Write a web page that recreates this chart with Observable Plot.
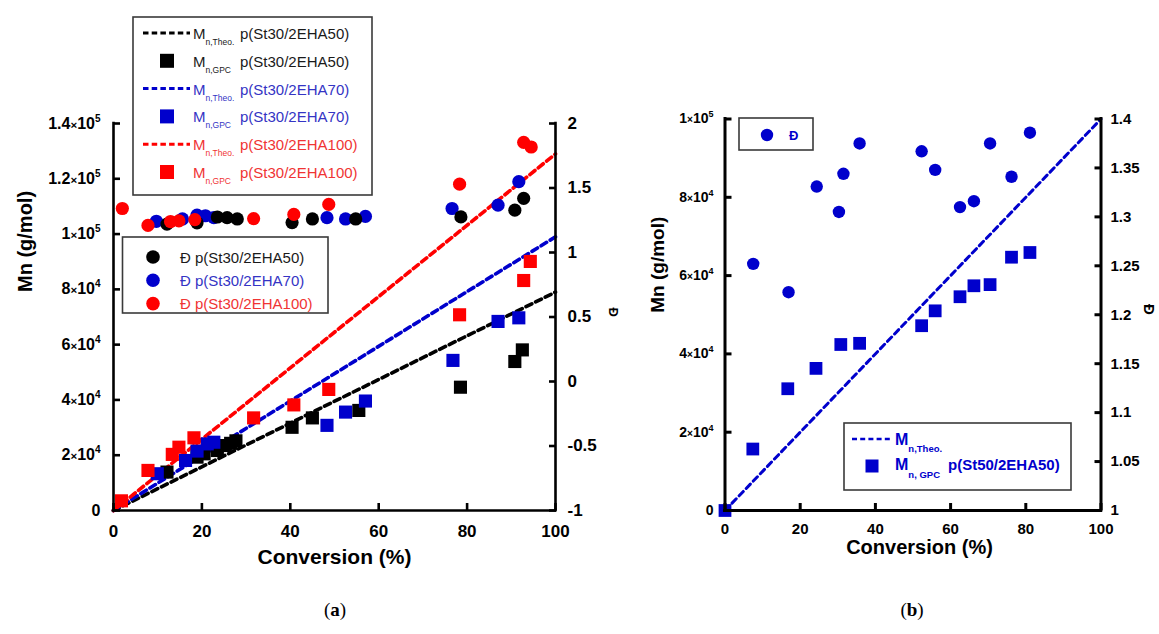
<!DOCTYPE html>
<html><head><meta charset="utf-8">
<script src="https://cdn.jsdelivr.net/npm/d3@7"></script>
<script src="https://cdn.jsdelivr.net/npm/@observablehq/plot@0.6"></script>
<style>
body{margin:0;background:#fff;}
#wrap{position:relative;width:1159px;height:634px;background:#fff;overflow:hidden;}
#wrap svg{position:absolute;top:0;}
</style></head><body><div id="wrap"></div>
<script>
// ---------------- Panel (a) data ----------------
const xTicksA = [0, 20, 40, 60, 80, 100];
const mnTicksA = [0, 20000, 40000, 60000, 80000, 100000, 120000, 140000];
const mnTickLabelsA = ["0", "2×10^4", "4×10^4", "6×10^4", "8×10^4", "1×10^5", "1.2×10^5", "1.4×10^5"];
const dTicksA = [-1, -0.5, 0, 0.5, 1, 1.5, 2];
const dTickLabelsA = ["-1", "-0.5", "0", "0.5", "1", "1.5", "2"];

const convTheoA = [0, 100];
const mnTheoA50 = [0, 79000];
const mnTheoA70 = [0, 99000];
const mnTheoA100 = [0, 129000];

const convGpcA50 = [12.1, 18.9, 20.5, 23.5, 25.3, 26.5, 27.7, 40.4, 45.0, 55.5, 78.5, 90.8, 92.5];
const mnGpcA50 = [13900, 19300, 20500, 21700, 23500, 24300, 25200, 30100, 33500, 36200, 44600, 53900, 58100];
const convGpcA70 = [9.9, 16.3, 18.9, 21.2, 22.7, 48.3, 52.5, 57.0, 76.8, 87.0, 91.7];
const mnGpcA70 = [13300, 18100, 21500, 24100, 24700, 30800, 35600, 39600, 54300, 68400, 69700];
const convGpcA100 = [1.8, 7.8, 13.3, 14.8, 18.2, 31.7, 40.8, 48.7, 78.3, 92.8, 94.3];
const mnGpcA100 = [3500, 14500, 20300, 22900, 26300, 33500, 38200, 43800, 70800, 83200, 90100];

const convDispA50 = [12.1, 18.9, 23.5, 25.7, 28.0, 40.4, 45.0, 54.8, 78.6, 90.8, 92.8];
const dispA50 = [1.22, 1.23, 1.275, 1.27, 1.26, 1.232, 1.26, 1.26, 1.276, 1.328, 1.42];
const convDispA70 = [9.7, 15.6, 18.9, 20.8, 22.7, 48.3, 52.5, 57.0, 76.6, 87.0, 91.7];
const dispA70 = [1.242, 1.26, 1.29, 1.285, 1.27, 1.27, 1.26, 1.28, 1.341, 1.367, 1.549];
const convDispA100 = [2.0, 7.8, 12.9, 14.8, 18.4, 31.7, 40.8, 48.7, 78.3, 92.8, 94.5];
const dispA100 = [1.341, 1.21, 1.24, 1.245, 1.255, 1.263, 1.295, 1.373, 1.53, 1.854, 1.818];

// ---------------- Panel (b) data ----------------
const xTicksB = [0, 20, 40, 60, 80, 100];
const mnTicksB = [0, 20000, 40000, 60000, 80000, 100000];
const mnTickLabelsB = ["0", "2×10^4", "4×10^4", "6×10^4", "8×10^4", "1×10^5"];
const dTicksB = [1, 1.05, 1.1, 1.15, 1.2, 1.25, 1.3, 1.35, 1.4];
const dTickLabelsB = ["1", "1.05", "1.1", "1.15", "1.2", "1.25", "1.3", "1.35", "1.4"];

const convTheoB = [0, 100];
const mnTheoB = [0, 100000];
const convGpcB = [0, 7.4, 16.7, 24.2, 30.8, 35.8, 52.3, 55.9, 62.5, 66.2, 70.5, 76.2, 81.1];
const mnGpcB = [0, 15700, 31100, 36300, 42400, 42700, 47200, 51000, 54600, 57400, 57700, 64700, 65900];
const convDispB = [7.5, 16.9, 24.4, 30.3, 31.5, 35.8, 52.3, 55.9, 62.5, 66.2, 70.5, 76.2, 81.1];
const dispB = [1.252, 1.223, 1.331, 1.305, 1.344, 1.375, 1.367, 1.348, 1.31, 1.316, 1.375, 1.341, 1.386];

// ---------------- Legends ----------------
const legendA1 = [
  {type: "line", color: "#000", text: "#1a1a1a", sub: "n,Theo.", name: "p(St30/2EHA50)"},
  {type: "square", color: "#000", text: "#1a1a1a", sub: "n,GPC", name: "p(St30/2EHA50)"},
  {type: "line", color: "#0000cc", text: "#3434c4", sub: "n,Theo.", name: "p(St30/2EHA70)"},
  {type: "square", color: "#0000cc", text: "#3434c4", sub: "n,GPC", name: "p(St30/2EHA70)"},
  {type: "line", color: "#ff0000", text: "#f03434", sub: "n,Theo.", name: "p(St30/2EHA100)"},
  {type: "square", color: "#ff0000", text: "#f03434", sub: "n,GPC", name: "p(St30/2EHA100)"}
];
const legendA2 = [
  {color: "#000", text: "#1a1a1a", name: "Đ p(St30/2EHA50)"},
  {color: "#0000cc", text: "#3434c4", name: "Đ p(St30/2EHA70)"},
  {color: "#ff0000", text: "#f03434", name: "Đ p(St30/2EHA100)"}
];

// ---------------- Helpers ----------------
const FONT = "'Liberation Sans', Arial, Helvetica, sans-serif";
const BLK = "#000", BLU = "#0000cc", RED = "#ff0000";
const pts = (xs, ys, f = v => v) => xs.map((x, i) => ({x, y: f(ys[i])}));
const toMnA = d => (d + 1) / 3 * 140000;
const fromMnA = v => v / 140000 * 3 - 1;
const toMnB = d => (d - 1) / 0.4 * 100000;
const fromMnB = v => v / 100000 * 0.4 + 1;
const nearestLabel = (ticks, labels, v) => labels[ticks.findIndex(t => Math.abs(t - v) < 1e-6)];
const dash = {strokeWidth: 3.6, strokeDasharray: "6.5,4.2"};
const axisStyle = {tickSize: -7, strokeWidth: 2.6, fontWeight: "bold", label: null};

const plotA = Plot.plot({
  width: 640, height: 634,
  marginLeft: 113, marginRight: 85, marginTop: 123, marginBottom: 124,
  x: {domain: [0, 100], label: null},
  y: {domain: [0, 140000], label: null},
  style: {background: "transparent", fontFamily: FONT, overflow: "visible", color: "#000"},
  marks: [
    Plot.line(pts(convTheoA, mnTheoA50), {x: "x", y: "y", stroke: BLK, ...dash}),
    Plot.line(pts(convTheoA, mnTheoA70), {x: "x", y: "y", stroke: BLU, ...dash}),
    Plot.line(pts(convTheoA, mnTheoA100), {x: "x", y: "y", stroke: RED, ...dash}),
    Plot.dot(pts(convDispA70, dispA70, toMnA), {x: "x", y: "y", r: 6.6, fill: BLU}),
    Plot.dot(pts(convDispA50, dispA50, toMnA), {x: "x", y: "y", r: 6.6, fill: BLK}),
    Plot.dot(pts(convDispA100, dispA100, toMnA), {x: "x", y: "y", r: 6.6, fill: RED}),
    Plot.dot(pts(convGpcA50, mnGpcA50), {x: "x", y: "y", r: 7.4, symbol: "square", fill: BLK}),
    Plot.dot(pts(convGpcA70, mnGpcA70), {x: "x", y: "y", r: 7.4, symbol: "square", fill: BLU}),
    Plot.dot(pts(convGpcA100, mnGpcA100), {x: "x", y: "y", r: 7.4, symbol: "square", fill: RED}),
    Plot.ruleX([0, 100], {strokeWidth: 2.6, strokeLinecap: "square"}),
    Plot.ruleY([0], {strokeWidth: 2.6, strokeLinecap: "square"}),
    Plot.axisX(xTicksA, {...axisStyle, tickPadding: 21, fontSize: 17}),
    Plot.axisY(mnTicksA, {...axisStyle, tickPadding: 20, fontSize: 16,
      tickFormat: d => nearestLabel(mnTicksA, mnTickLabelsA, d)}),
    Plot.axisY(dTicksA.map(toMnA), {...axisStyle, anchor: "right", tickPadding: 19, fontSize: 17,
      tickFormat: d => nearestLabel(dTicksA, dTickLabelsA, fromMnA(d))}),
    Plot.text(["Conversion (%)"], {text: d => d, frameAnchor: "bottom", dy: 53, fontSize: 21, fontWeight: "bold"}),
    Plot.text(["Mn (g/mol)"], {text: d => d, frameAnchor: "left", dx: -88, dy: -25, rotate: -90, fontSize: 20, fontWeight: "bold"}),
    Plot.text(["Đ"], {text: d => d, frameAnchor: "right", dx: 58, rotate: 90, fontSize: 13, fontWeight: "bold"})
  ]
});

const plotB = Plot.plot({
  width: 519, height: 634,
  marginLeft: 84.5, marginRight: 58.5, marginTop: 118.5, marginBottom: 124,
  x: {domain: [0, 100], label: null},
  y: {domain: [0, 100000], label: null},
  style: {background: "transparent", fontFamily: FONT, overflow: "visible", color: "#000"},
  marks: [
    Plot.line(pts(convTheoB, mnTheoB), {x: "x", y: "y", stroke: BLU, strokeWidth: 3, strokeDasharray: "6,4.2"}),
    Plot.dot(pts(convDispB, dispB, toMnB), {x: "x", y: "y", r: 6.2, fill: BLU}),
    Plot.dot(pts(convGpcB, mnGpcB), {x: "x", y: "y", r: 7.2, symbol: "square", fill: BLU}),
    Plot.ruleX([0, 100], {strokeWidth: 3, strokeLinecap: "square"}),
    Plot.ruleY([0], {strokeWidth: 3, strokeLinecap: "square"}),
    Plot.axisX(xTicksB, {...axisStyle, strokeWidth: 3, tickPadding: 20, fontSize: 15}),
    Plot.axisY(mnTicksB, {...axisStyle, strokeWidth: 3, tickPadding: 18.5, fontSize: 14,
      tickFormat: d => nearestLabel(mnTicksB, mnTickLabelsB, d)}),
    Plot.axisY(dTicksB.map(toMnB), {...axisStyle, strokeWidth: 3, anchor: "right", tickPadding: 16.5, fontSize: 15,
      tickFormat: d => nearestLabel(dTicksB, dTickLabelsB, fromMnB(d))}),
    Plot.text(["Conversion (%)"], {text: d => d, frameAnchor: "bottom", dx: 6.5, dy: 43, fontSize: 20, fontWeight: "bold"}),
    Plot.text(["Mn (g/mol)"], {text: d => d, frameAnchor: "left", dx: -67.5, dy: -2, rotate: -90, fontSize: 19, fontWeight: "bold"}),
    Plot.text(["Đ"], {text: d => d, frameAnchor: "right", dx: 48, rotate: 90, fontSize: 15, fontWeight: "bold"})
  ]
});

const wrap = document.getElementById("wrap");
plotA.style.left = "0px";
plotB.style.left = "640px";
wrap.appendChild(plotA);
wrap.appendChild(plotB);

// superscript exponents in tick labels like "1.4×10^5"
function supify(svg, supSize, rise) {
  d3.select(svg).selectAll("text").each(function () {
    const m = this.textContent.match(/^(.*)×10\^(\d)$/);
    if (!m) return;
    const s = d3.select(this);
    s.text(null);
    s.append("tspan").text(m[1]);
    s.append("tspan").attr("font-size", "0.72em").text("×");
    s.append("tspan").text("10");
    s.append("tspan").attr("font-size", supSize).attr("dy", -rise).text(m[2]);
  });
}
supify(plotA, 10, 7);
supify(plotB, 9, 6);

// ---------------- Overlay: legends and panel letters ----------------
const ov = d3.select(wrap).append("svg").attr("width", 1159).attr("height", 634)
  .style("left", "0px").style("font-family", FONT).style("pointer-events", "none");

// Legend (a) – upper
ov.append("rect").attr("x", 133).attr("y", 17).attr("width", 239).attr("height", 178)
  .attr("fill", "#fff").attr("stroke", "#3a3a3a").attr("stroke-width", 1.6);
legendA1.forEach((e, i) => {
  const cy = 33 + i * 27.8;
  if (e.type === "line") {
    ov.append("line").attr("x1", 143).attr("x2", 190).attr("y1", cy).attr("y2", cy)
      .attr("stroke", e.color).attr("stroke-width", 3).attr("stroke-dasharray", "5.5,3.2");
  } else {
    ov.append("rect").attr("x", 160).attr("y", cy - 7).attr("width", 14).attr("height", 14).attr("fill", e.color);
  }
  const t = ov.append("text").attr("x", 193).attr("y", cy + 6).attr("fill", e.text).attr("font-size", 15);
  t.append("tspan").text("M");
  t.append("tspan").attr("font-size", 8.5).attr("dy", 6).text(e.sub);
  ov.append("text").attr("x", 240).attr("y", cy + 6).attr("fill", e.text).attr("font-size", 15).text(e.name);
});

// Legend (a) – lower
ov.append("rect").attr("x", 122.5).attr("y", 237).attr("width", 205.5).attr("height", 76)
  .attr("fill", "#fff").attr("stroke", "#3a3a3a").attr("stroke-width", 1.6);
legendA2.forEach((e, i) => {
  const cy = 257 + i * 23.3;
  ov.append("circle").attr("cx", 153).attr("cy", cy).attr("r", 6.8).attr("fill", e.color);
  ov.append("text").attr("x", 180).attr("y", cy + 5.5).attr("fill", e.text).attr("font-size", 15).text(e.name);
});

// Legend (b) – upper
ov.append("rect").attr("x", 739).attr("y", 118).attr("width", 74).attr("height", 32)
  .attr("fill", "#fff").attr("stroke", "#3a3a3a").attr("stroke-width", 1.6);
ov.append("circle").attr("cx", 767).attr("cy", 135).attr("r", 6.2).attr("fill", BLU);
ov.append("text").attr("x", 789).attr("y", 140).attr("fill", BLU).attr("font-size", 13)
  .attr("font-weight", "bold").text("Đ");

// Legend (b) – lower
ov.append("rect").attr("x", 844).attr("y", 423).attr("width", 227).attr("height", 67)
  .attr("fill", "#fff").attr("stroke", "#3a3a3a").attr("stroke-width", 1.6);
ov.append("line").attr("x1", 852).attr("x2", 892).attr("y1", 439).attr("y2", 439)
  .attr("stroke", BLU).attr("stroke-width", 2.6).attr("stroke-dasharray", "5,3.2");
ov.append("rect").attr("x", 865.5).attr("y", 459.5).attr("width", 13).attr("height", 13).attr("fill", BLU);
const lb1 = ov.append("text").attr("x", 895).attr("y", 445).attr("fill", BLU).attr("font-size", 16).attr("font-weight", "bold");
lb1.append("tspan").text("M");
lb1.append("tspan").attr("font-size", 9.5).attr("dy", 7).text("n,Theo.");
const lb2 = ov.append("text").attr("x", 895).attr("y", 470).attr("fill", BLU).attr("font-size", 16).attr("font-weight", "bold");
lb2.append("tspan").text("M");
lb2.append("tspan").attr("font-size", 9.5).attr("dy", 8).text("n, GPC");
ov.append("text").attr("x", 948).attr("y", 470).attr("fill", BLU).attr("font-size", 15).attr("font-weight", "bold").text("p(St50/2EHA50)");

// Panel letters
[["a", 335], ["b", 912]].forEach(([k, x]) => {
  const t = ov.append("text").attr("x", x).attr("y", 616).attr("text-anchor", "middle")
    .attr("font-family", "'Liberation Serif', 'Times New Roman', serif").attr("font-size", 19).attr("fill", "#000");
  t.append("tspan").text("(");
  t.append("tspan").attr("font-weight", "bold").text(k);
  t.append("tspan").text(")");
});
</script>
</body></html>
